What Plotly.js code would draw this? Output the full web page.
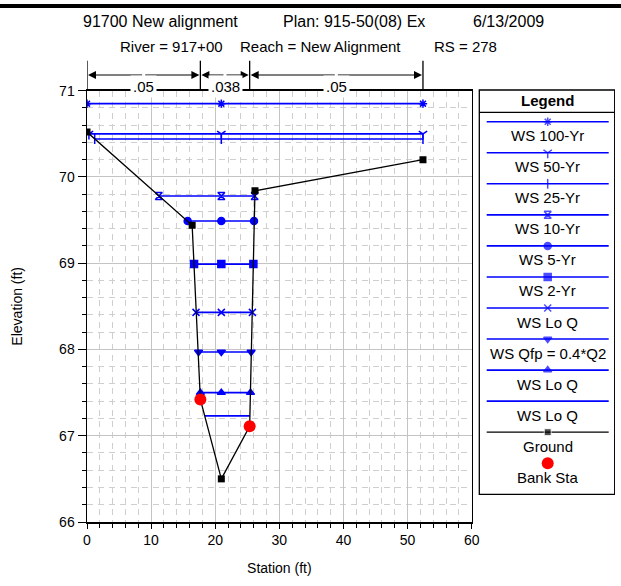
<!DOCTYPE html>
<html><head><meta charset="utf-8">
<script src="https://cdn.plot.ly/plotly-3.0.1.min.js"></script>
<style>html,body{margin:0;padding:0;background:#fff}</style>
</head><body><div id="chart" style="width:621px;height:586px"></div>
<script>
// ---- data ----
const groundSta  = [0, 16.4, 17.68, 20.95, 25.37, 26.2, 52.4];
const groundElev = [70.52, 69.44, 67.42, 66.50, 67.11, 69.84, 70.20];
const bankSta  = [17.68, 25.37];
const bankElev = [67.42, 67.11];
const wsNames = ['WS 100-Yr','WS 50-Yr','WS 25-Yr','WS 10-Yr','WS 5-Yr','WS 2-Yr','WS Lo Q','WS Qfp = 0.4*Q2','WS Lo Q','WS Lo Q'];
const wsElev     = [70.85, 70.50, 70.44, 69.78, 69.49, 68.99, 68.43, 67.97, 67.50, 67.23];
const wsLeftSta  = [0, 0.3, 1.2, 11.2, 15.7, 16.7, 17.0, 17.4, 17.68, 18.4];
const wsMidSta   = [20.95, 20.95, 20.95, 20.95, 20.95, 20.95, 20.95, 20.95, 20.95, 20.95];
const wsRightSta = [52.4, 52.4, 52.4, 26.15, 26.05, 25.95, 25.8, 25.6, 25.5, 25.4];
const nBreakSta = [0, 17.68, 25.37, 52.4];
const nValues = ['.05', '.038', '.05'];
const xTickVals = [0, 10, 20, 30, 40, 50, 60];
const yTickVals = [66, 67, 68, 69, 70, 71];
const titleLine1 = ['91700 New alignment', 'Plan: 915-50(08) Ex', '6/13/2009'];
const titleLine2 = ['River = 917+00', 'Reach = New Alignment', 'RS = 278'];

// ---- styles ----
const FONT = 'Liberation Sans, Arial, sans-serif';
const BLUE = '#0000ff';
const wsSymbols = ['asterisk-open','y-down-open','line-ns-open','hourglass-open','circle','square','x-thin-open','triangle-down','triangle-up', null];

// paper geometry helpers (margins l=87,r=6,t=80,b=64)
const L = 87, W = 528, B = 522, H = 442;
const px2x = px => (px - L) / W;
const py2y = py => (B - py) / H;
const pxPerUnit = (471.7 - 87) / 60;

function wsTrace(x, y, sym, sizes, xa, ya) {
  const t = {x: x, y: y, mode: 'lines', line: {color: BLUE, width: 1.6},
    xaxis: xa, yaxis: ya, showlegend: false, hoverinfo: 'skip'};
  if (sym) {
    t.mode = 'lines+markers';
    t.marker = {symbol: sym, size: sizes, color: BLUE, line: {color: BLUE, width: 1.5}};
  }
  return t;
}

const traces = [];
wsNames.forEach((n, i) => {
  traces.push(wsTrace([wsLeftSta[i], wsMidSta[i], wsRightSta[i]], [wsElev[i], wsElev[i], wsElev[i]],
    wsSymbols[i], 7, 'x', 'y'));
});
traces.push({x: groundSta, y: groundElev, mode: 'lines+markers',
  line: {color: 'black', width: 1.3}, marker: {symbol: 'square', size: 7, color: 'black'},
  xaxis: 'x', yaxis: 'y', showlegend: false});
traces.push({x: bankSta, y: bankElev, mode: 'markers',
  marker: {symbol: 'circle', size: 12, color: '#ff0000'},
  xaxis: 'x', yaxis: 'y', showlegend: false});

// ---- custom legend (x2/y2 in pixel units) ----
const legLeft = 479.3, legRight = 614.7, legTop = 90, legBottom = 494.3;
const sampL = 486.7, sampR = 608.7, legMid = 547.7;
const rowY = i => 121.7 + 31.05 * i;
const legLabels = wsNames.concat(['Ground', 'Bank Sta']);
wsNames.forEach((n, i) => {
  traces.push(wsTrace([sampL, legMid, sampR], [rowY(i), rowY(i), rowY(i)], wsSymbols[i], [0, 7, 0], 'x2', 'y2'));
});
traces.push({x: [sampL, legMid, sampR], y: [rowY(10), rowY(10), rowY(10)], mode: 'lines+markers',
  line: {color: 'black', width: 1.3}, marker: {symbol: 'square', size: [0, 7, 0], color: 'black'},
  xaxis: 'x2', yaxis: 'y2', showlegend: false, hoverinfo: 'skip'});
traces.push({x: [legMid], y: [rowY(11)], mode: 'markers',
  marker: {symbol: 'circle', size: 12, color: '#ff0000'},
  xaxis: 'x2', yaxis: 'y2', showlegend: false, hoverinfo: 'skip'});

const annotations = [];
const shapes = [];
legLabels.forEach((t, i) => {
  annotations.push({x: legMid, y: rowY(i) + 14, xref: 'x2', yref: 'y2', text: t, showarrow: false,
    font: {family: FONT, size: 15, color: 'black'}, xanchor: 'center', yanchor: 'middle'});
});
annotations.push({x: legMid, y: 100.7, xref: 'x2', yref: 'y2', text: '<b>Legend</b>', showarrow: false,
  font: {family: FONT, size: 15, color: 'black'}, xanchor: 'center', yanchor: 'middle'});
shapes.push({type: 'rect', xref: 'x2', yref: 'y2', x0: legLeft, x1: legRight, y0: legTop, y1: legBottom,
  line: {color: 'black', width: 1.3}});
shapes.push({type: 'line', xref: 'x2', yref: 'y2', x0: legLeft, x1: legRight, y0: 112.3, y1: 112.3,
  line: {color: 'black', width: 1.3}});

// ---- titles ----
const line1X = [80.7, 281, 471];
const line2X = [118, 237.6, 431.7];
titleLine1.forEach((t, i) => annotations.push({x: px2x(line1X[i]), y: py2y(21), xref: 'paper', yref: 'paper',
  text: t, showarrow: false, xanchor: 'left', yanchor: 'middle', font: {family: FONT, size: 16, color: 'black'}}));
titleLine2.forEach((t, i) => annotations.push({x: px2x(line2X[i]), y: py2y(46.5), xref: 'paper', yref: 'paper',
  text: t, showarrow: false, xanchor: 'left', yanchor: 'middle', font: {family: FONT, size: 15, color: 'black'}}));
shapes.push({type: 'line', xref: 'paper', yref: 'paper', x0: px2x(0), x1: px2x(621), y0: py2y(6), y1: py2y(6),
  line: {color: 'black', width: 4}});

// ---- roughness bar ----
nBreakSta.forEach(s => shapes.push({type: 'line', xref: 'x', yref: 'paper', x0: s, x1: s,
  y0: py2y(60.7), y1: py2y(90.7), line: {color: 'black', width: 1.3}}));
const arrowY = py2y(75);
nValues.forEach((v, k) => {
  const a = nBreakSta[k], b = nBreakSta[k + 1], mid = (a + b) / 2, half = (b - a) / 2 * pxPerUnit;
  annotations.push({x: a, y: arrowY, xref: 'x', yref: 'paper', text: '', showarrow: true, ax: half, ay: 0,
    arrowhead: 2, arrowsize: 1.6, arrowwidth: 1, arrowcolor: 'black', standoff: 1, startstandoff: 0});
  annotations.push({x: b, y: arrowY, xref: 'x', yref: 'paper', text: '', showarrow: true, ax: -half, ay: 0,
    arrowhead: 2, arrowsize: 1.6, arrowwidth: 1, arrowcolor: 'black', standoff: 1, startstandoff: 0});
  annotations.push({x: mid, y: arrowY, xref: 'x', yref: 'paper', text: v, showarrow: false,
    bgcolor: 'white', borderpad: 2, font: {family: FONT, size: 15, color: 'black'}});
});

const gridMinor = {showgrid: true, gridcolor: '#cfcfcf', gridwidth: 1, griddash: '6px,5px',
  ticks: 'outside', ticklen: 4, tickcolor: 'black', tickwidth: 1};

const layout = {
  width: 621, height: 586,
  margin: {l: L, r: 621 - L - W, t: B - H, b: 586 - B, pad: 0},
  paper_bgcolor: 'white', plot_bgcolor: 'white',
  font: {family: FONT, size: 14, color: 'black'},
  showlegend: false,
  xaxis: {domain: [0, px2x(471.7)], range: [0, 60], tickvals: xTickVals, ticks: 'outside', ticklen: 5,
    tickcolor: 'black', showline: true, linecolor: 'black', linewidth: 1.5, mirror: true,
    showgrid: true, gridcolor: '#c4c4c4', gridwidth: 1, zeroline: false,
    minor: Object.assign({dtick: 2}, gridMinor),
    tickfont: {family: FONT, size: 14}, title: {text: 'Station (ft)', font: {family: FONT, size: 14}, standoff: 16}},
  yaxis: {domain: [0, py2y(90.7)], range: [66, 71], tickvals: yTickVals, ticks: 'outside', ticklen: 8,
    tickcolor: 'black', showline: true, linecolor: 'black', linewidth: 1.5, mirror: true,
    showgrid: true, gridcolor: '#c4c4c4', gridwidth: 1, zeroline: false,
    minor: Object.assign({dtick: 0.2}, gridMinor),
    tickfont: {family: FONT, size: 14}, title: {text: 'Elevation (ft)', font: {family: FONT, size: 14}, standoff: 33}},
  xaxis2: {domain: [px2x(475), 1], range: [475, 615], visible: false, fixedrange: true, anchor: 'y2'},
  yaxis2: {domain: [py2y(500), 1], range: [500, 80], visible: false, fixedrange: true, anchor: 'x2'},
  annotations: annotations,
  shapes: shapes
};

Plotly.newPlot('chart', traces, layout, {staticPlot: true, displayModeBar: false});
</script></body></html>
